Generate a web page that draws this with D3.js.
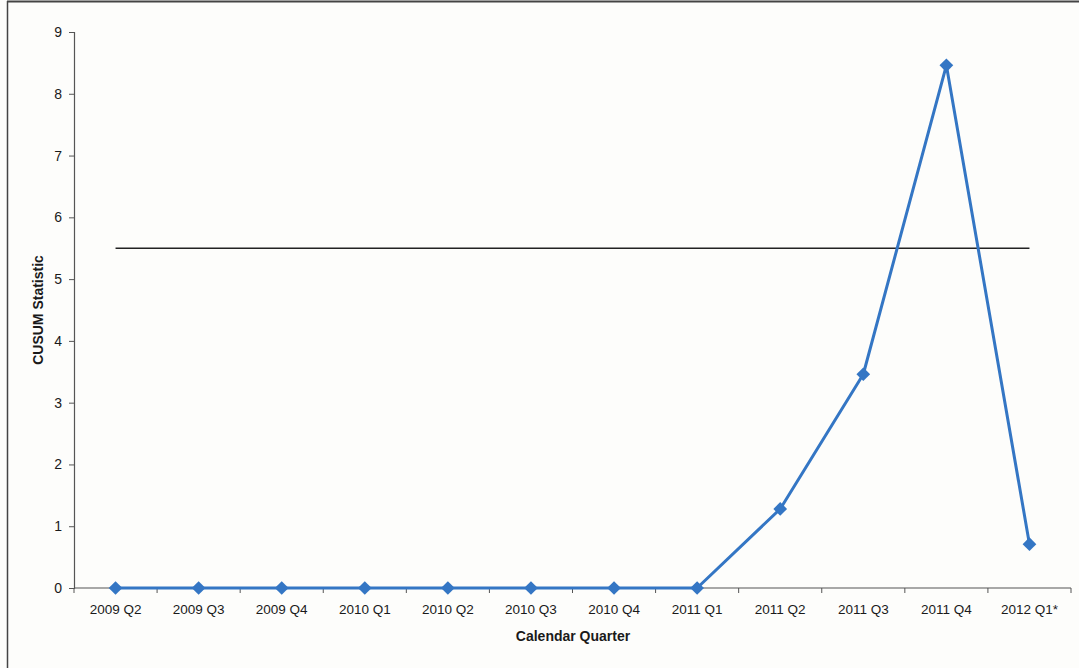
<!DOCTYPE html>
<html>
<head>
<meta charset="utf-8">
<script src="https://cdn.jsdelivr.net/npm/d3@7"></script>
<style>
  html, body { margin: 0; padding: 0; background: #fdfdfb; }
  svg { display: block; font-family: "Liberation Sans", Arial, sans-serif; }
</style>
</head>
<body>
<svg id="chart" width="1079" height="668"></svg>
<script>
// Quarterly CUSUM statistic with its decision threshold
const quarters = ["2009 Q2", "2009 Q3", "2009 Q4", "2010 Q1", "2010 Q2", "2010 Q3",
                  "2010 Q4", "2011 Q1", "2011 Q2", "2011 Q3", "2011 Q4", "2012 Q1*"];
const cusum = [0, 0, 0, 0, 0, 0, 0, 0, 1.28, 3.46, 8.46, 0.71];
const threshold = 5.5;
const yTicks = [0, 1, 2, 3, 4, 5, 6, 7, 8, 9];

const svg = d3.select("#chart");
const W = 1079, H = 668;
const margin = { left: 74, right: 8, top: 32, bottom: 80 };

// Page frame
svg.append("rect").attr("x", 0).attr("y", 0).attr("width", W).attr("height", H).attr("fill", "#fdfdfb");
svg.append("line").attr("x1", 7).attr("x2", W).attr("y1", 1.5).attr("y2", 1.5)
  .attr("stroke", "#444").attr("stroke-width", 2);
svg.append("line").attr("x1", 7.5).attr("x2", 7.5).attr("y1", 1).attr("y2", H)
  .attr("stroke", "#444").attr("stroke-width", 1.5);

const x = d3.scaleBand().domain(quarters)
  .range([margin.left, W - margin.right]).paddingInner(0).paddingOuter(0);
const y = d3.scaleLinear().domain([0, 9]).range([H - margin.bottom, margin.top]);
const cx = d => x(d) + x.bandwidth() / 2;

// Y axis
const yAxis = svg.append("g").attr("transform", `translate(${margin.left},0)`)
  .call(d3.axisLeft(y).tickValues(yTicks).tickSize(5).tickPadding(7).tickFormat(d3.format("d")));
yAxis.select(".domain").attr("stroke", "#555").attr("stroke-width", 1.2);
yAxis.selectAll(".tick line").attr("stroke", "#555");
yAxis.selectAll("text").attr("font-size", 14).attr("fill", "#1a1a1a");

// X axis: tick marks at category boundaries, labels centred in bands
const xAxisG = svg.append("g").attr("transform", `translate(0,${y(0)})`);
xAxisG.append("line").attr("x1", margin.left).attr("x2", W - margin.right)
  .attr("stroke", "#555").attr("stroke-width", 1.2);
const boundaries = quarters.map(q => x(q)).concat([x(quarters[quarters.length - 1]) + x.bandwidth()]);
xAxisG.selectAll(".bt").data(boundaries).join("line")
  .attr("x1", d => d).attr("x2", d => d).attr("y1", 0).attr("y2", 5)
  .attr("stroke", "#555");
xAxisG.selectAll(".lbl").data(quarters).join("text")
  .attr("x", d => cx(d)).attr("y", 26).attr("text-anchor", "middle")
  .attr("font-size", 13.5).attr("fill", "#1a1a1a").text(d => d);

// Axis titles
svg.append("text").attr("x", 573).attr("y", 641).attr("text-anchor", "middle")
  .attr("font-size", 14).attr("font-weight", "bold").attr("fill", "#1a1a1a").text("Calendar Quarter");
svg.append("text").attr("transform", `translate(43,${(y(0) + y(9)) / 2}) rotate(-90)`)
  .attr("text-anchor", "middle").attr("font-size", 14).attr("font-weight", "bold")
  .attr("fill", "#1a1a1a").text("CUSUM Statistic");

// Threshold line
svg.append("line")
  .attr("x1", cx(quarters[0])).attr("x2", cx(quarters[quarters.length - 1]))
  .attr("y1", y(threshold)).attr("y2", y(threshold))
  .attr("stroke", "#222").attr("stroke-width", 1.5);

// CUSUM series
const pts = quarters.map((q, i) => [cx(q), y(cusum[i])]);
const lineColor = "#3476c4";
svg.append("path").attr("d", d3.line()(pts))
  .attr("fill", "none").attr("stroke", lineColor).attr("stroke-width", 3)
  .attr("stroke-linejoin", "round");
svg.selectAll(".mk").data(pts).join("path")
  .attr("transform", d => `translate(${d[0]},${d[1]})`)
  .attr("d", d3.symbol(d3.symbolDiamond2, 120)())
  .attr("fill", lineColor);
</script>
</body>
</html>
